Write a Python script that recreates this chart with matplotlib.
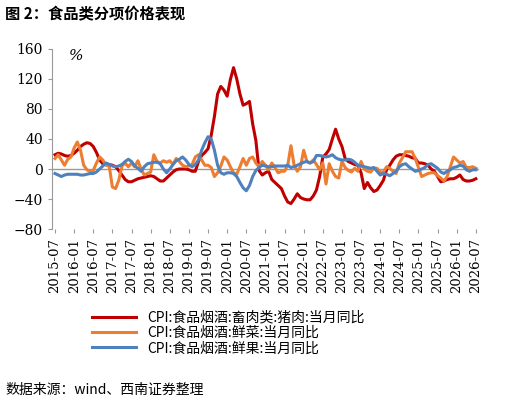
import matplotlib
matplotlib.use("Agg")
import matplotlib.pyplot as plt
import pandas as pd

plt.rcParams['font.family'] = ['Noto Sans CJK SC', 'DejaVu Sans']

months = pd.date_range("2015-07-01", "2026-07-01", freq="MS")
pork = [19,21,20,18,17,18,21,25,30,33,35,34,
        30,22,12,7,7,6,5,3,-2,-8,-14,-17,
        -17,-15,-13,-12,-11,-10,-9,-10,-13,-16,-16,-12,
        -8,-4,-1,0,0,0,-1,-3,-3,10,18,22,
        27,45,70,100,110,105,97,119,135,120,100,85,
        87,90,60,38,-2,-8,-5,-3,-14,-18,-22,-26,
        -36,-44,-46,-40,-33,-38,-40,-41,-41,-36,-28,-10,
        16,20,26,40,53,40,30,14,10,8,6,5,
        -5,-26,-18,-25,-30,-28,-22,-15,-1,5,12,17,
        19,19,18,17,15,14,8,8,7,5,0,-3,
        -10,-17,-16,-14,-13,-13,-11,-8,-14,-16,-16,-15,-13]
veg = [14,19,12,5,13,16,28,36,25,5,-1,-3,
       -2,8,16,12,5,4,-24,-26,-15,4,8,3,
       8,3,11,0,-8,-6,-4,19,10,8,11,9,
       11,6,14,10,5,3,4,6,16,19,12,5,
       5,2,-10,-5,4,16,12,3,-5,-7,3,14,
       5,14,16,8,3,10,5,-1,8,2,-5,-3,
       -3,5,31,5,-3,3,25,10,8,12,6,-1,
       8,-20,7,-3,-10,-12,10,2,-2,-4,1,-3,
       10,0,-3,-4,1,1,-4,-4,3,1,-3,-6,
       8,15,23,23,23,14,2,-10,-8,-6,-5,-5,
       -9,-12,-16,-10,3,16,12,8,10,2,2,3,1]
fruit = [-6,-8,-10,-8,-7,-7,-7,-7,-8,-8,-7,-6,
         -6,-4,0,4,8,6,4,3,4,6,10,13,
         10,4,1,-3,3,7,8,9,9,7,0,-5,
         0,6,11,13,16,12,6,3,6,12,25,35,
         43,40,25,5,-5,-7,-5,-5,-6,-10,-18,-25,
         -29,-22,-10,-2,2,5,4,3,3,4,4,4,
         4,5,2,3,5,7,9,10,8,10,18,18,
         17,16,17,19,15,13,12,12,13,12,9,5,
         4,3,2,1,2,-3,-8,-6,-7,-9,-6,-3,
         3,6,7,3,0,-3,-2,0,2,6,7,4,
         1,-4,-6,-3,-1,2,3,5,4,-1,-3,-1,-1]
labels = ["CPI:食品烟酒:畜肉类:猪肉:当月同比",
          "CPI:食品烟酒:鲜菜:当月同比",
          "CPI:食品烟酒:鲜果:当月同比"]
colors = ["#C00000", "#ED7D31", "#4F81BD"]
yticks = [-80, -40, 0, 40, 80, 120, 160]

fig = plt.figure(figsize=(5.08, 4.04), dpi=100)
ax = fig.add_axes([0.102, 0.433, 0.841, 0.446])
for s, l, c in zip([pork, veg, fruit], labels, colors):
    ax.plot(range(len(months)), s, color=c, lw=2.2, label=l)
ax.axhline(0, color="#999999", lw=1, zorder=0)
ax.set_ylim(-80, 160)
ax.set_yticks(yticks)
ax.set_xlim(-1, len(months))
xt = list(range(0, len(months), 6))
ax.set_xticks(xt)
ax.set_xticklabels([months[i].strftime("%Y-%m") for i in xt], rotation=90, fontsize=9.5,
                   family=['DejaVu Serif'])
ax.tick_params(axis='y', labelsize=10, length=3, color="#999999")
ax.tick_params(axis='x', length=3, color="#999999")
for lab in ax.get_yticklabels():
    lab.set_family('DejaVu Serif')
for sp in ["top", "right", "bottom"]:
    ax.spines[sp].set_visible(False)
ax.spines["left"].set_color("#999999")
ax.text(0.04, 1.0, "%", transform=ax.transAxes, fontsize=11, va="top", family='DejaVu Serif',
        style='italic')
fig.legend(loc="upper left", bbox_to_anchor=(0.17, 0.245), frameon=False, fontsize=10,
           handlelength=3.2, labelspacing=0.1, borderaxespad=0)
fig.text(0.01, 0.965, "图 2：食品类分项价格表现", fontsize=11, fontweight="bold", va="center")
fig.text(0.01, 0.035, "数据来源：wind、西南证券整理", fontsize=10, style="italic", va="center")
fig.savefig("out.png", dpi=100)
